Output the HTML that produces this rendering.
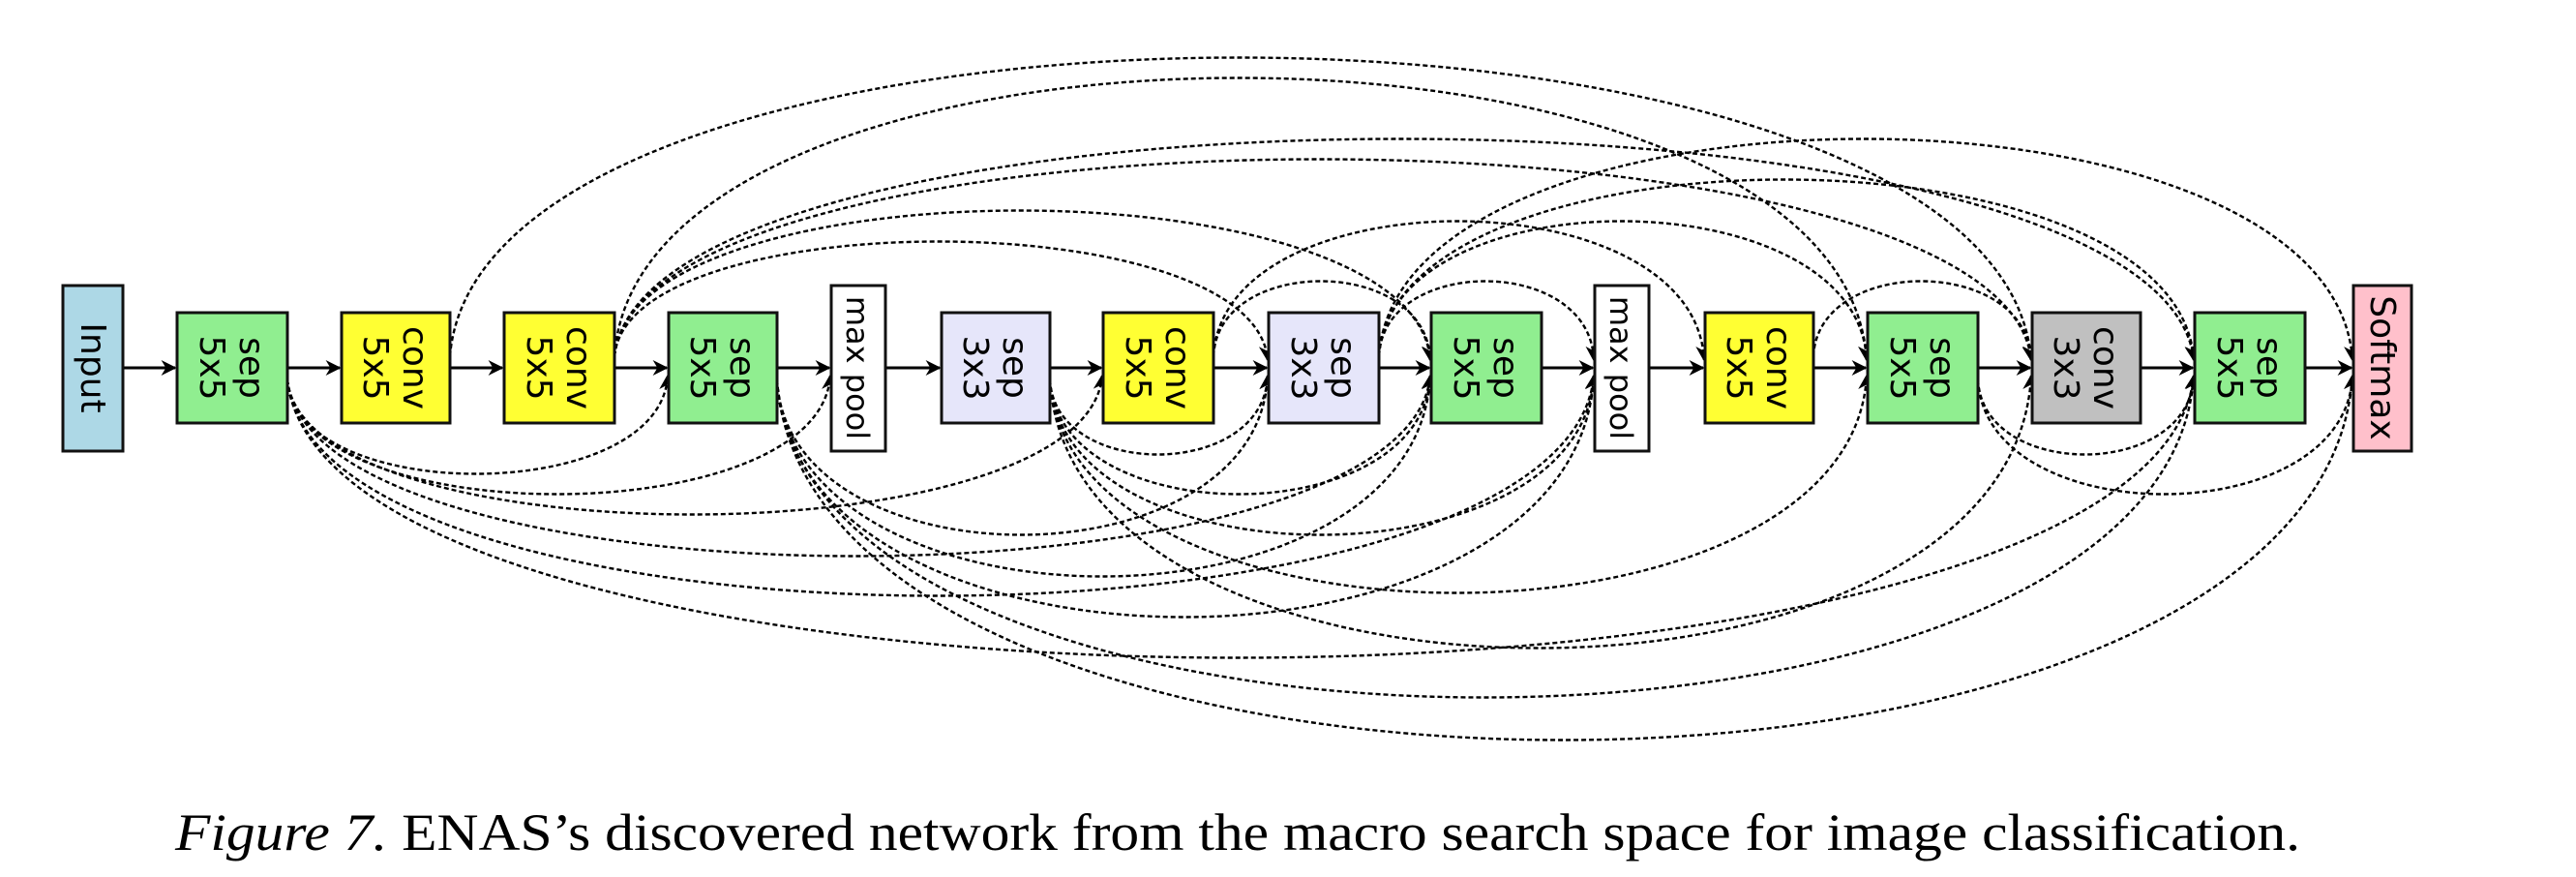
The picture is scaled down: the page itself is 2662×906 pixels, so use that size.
<!DOCTYPE html>
<html><head><meta charset="utf-8"><style>
html,body{margin:0;padding:0;background:#fff;width:2662px;height:906px;overflow:hidden}
svg{display:block}
</style></head><body>
<svg id="fig" width="2662" height="906" viewBox="0 0 2662 906" xmlns="http://www.w3.org/2000/svg">
<defs>
<marker id="ah" viewBox="0 0 10 10" refX="9" refY="5" markerWidth="20" markerHeight="16" orient="auto" markerUnits="userSpaceOnUse" style="overflow:visible">
<path d="M0,0 L10,5 L0,10 L3,5 z" fill="#000"/>
</marker>
</defs>
<g id="edges"></g>
<g id="nodes"></g>
<text x="181" y="878" font-family="'Liberation Serif', serif" font-size="54" textLength="2196" lengthAdjust="spacingAndGlyphs"><tspan font-style="italic">Figure 7.</tspan> ENAS’s discovered network from the macro search space for image classification.</text>
</svg>
<script>
const nodeLabels = [["Input"],["sep","5x5"],["conv","5x5"],["conv","5x5"],["sep","5x5"],["max pool"],["sep","3x3"],["conv","5x5"],["sep","3x3"],["sep","5x5"],["max pool"],["conv","5x5"],["sep","5x5"],["conv","3x3"],["sep","5x5"],["Softmax"]];
const nodeColors = ["#add8e6","#90ee90","#ffff33","#ffff33","#90ee90","#ffffff","#e6e6fa","#ffff33","#e6e6fa","#90ee90","#ffffff","#ffff33","#90ee90","#c0c0c0","#90ee90","#ffc0cb"];
const nodeLeft = [65,183,353,521,691,859,973,1140,1311,1479,1648,1762,1930,2100,2268,2432];
const nodeWidth = [62,114,112,114,112,56,112,114,114,114,56,112,114,112,114,60];
// skip connections: from, to, side (1 = above, -1 = below), extreme y
const edgeFrom = [2,3,3,3,3,3,7,8,8,8,7,8,11, 1,1,1,1,1,1, 4,4,4,4,4, 6,6,6,6,6, 12,12];
const edgeTo   = [13,12,14,13,9,8,11,12,15,14,9,10,13, 4,5,7,9,10,14, 8,9,10,14,15, 8,9,10,12,13, 14,15];
const edgeSide = [1,1,1,1,1,1,1,1,1,1,1,1,1, -1,-1,-1,-1,-1,-1, -1,-1,-1,-1,-1, -1,-1,-1,-1,-1, -1,-1];
const edgeExt  = [62,83,146,167,220,252,231,231,146,188,293,293,293, 487,508,529,572,613,677, 550,593,635,718,762, 467,508,550,610,667, 467,508];
const NS="http://www.w3.org/2000/svg", CY=380;
const eg=document.getElementById('edges'), ng=document.getElementById('nodes');
function mk(t,a,p){const e=document.createElementNS(NS,t);for(const k in a)e.setAttribute(k,a[k]);p.appendChild(e);return e;}
for(let i=0;i<nodeLeft.length-1;i++){
  const x1=nodeLeft[i]+nodeWidth[i], x2=nodeLeft[i+1];
  const l=mk('line',{x1:x1,y1:CY,x2:x2-2,y2:CY,stroke:'#000','stroke-width':3,'marker-end':'url(#ah)'},eg);
  
  
}
for(let k=0;k<edgeFrom.length;k++){
  const a=edgeFrom[k], b=edgeTo[k];
  const x1=nodeLeft[a]+nodeWidth[a], x2=nodeLeft[b];
  const y1=CY-edgeSide[k]*12, y2=CY-edgeSide[k]*8;
  const c=CY+(edgeExt[k]-CY)/0.75, dx=x2-x1;
  const p=mk('path',{d:`M${x1},${y1} C${x1+dx*0.02},${c} ${x2-dx*0.02},${c} ${x2-1},${y2}`,fill:'none',stroke:'#000','stroke-width':2.4,'stroke-dasharray':'5,3','marker-end':'url(#ah)'},eg);
  
  
}
for(let i=0;i<nodeLeft.length;i++){
  const L=nodeLabels[i];
  const tall=L.length===1;
  const y=tall?295:323, h=tall?171:114;
  const g=mk('g',{},ng);
  
  
  mk('rect',{x:nodeLeft[i],y:y,width:nodeWidth[i],height:h,fill:nodeColors[i],stroke:'#111','stroke-width':3},g);
  const cx=nodeLeft[i]+nodeWidth[i]/2;
  const fs = (L[0]==='max pool') ? 32 : 36;
  const t=mk('text',{transform:`translate(${cx},${CY}) rotate(90)`,'font-family':"'DejaVu Sans', sans-serif",'font-size':fs,'text-anchor':'middle',fill:'#000'},g);
  if(L.length===1){const s=mk('tspan',{x:0,y:12},t);s.textContent=L[0];}
  else{const s1=mk('tspan',{x:0,y:-8},t);s1.textContent=L[0];const s2=mk('tspan',{x:0,y:33},t);s2.textContent=L[1];}
}
</script>
</body></html>
